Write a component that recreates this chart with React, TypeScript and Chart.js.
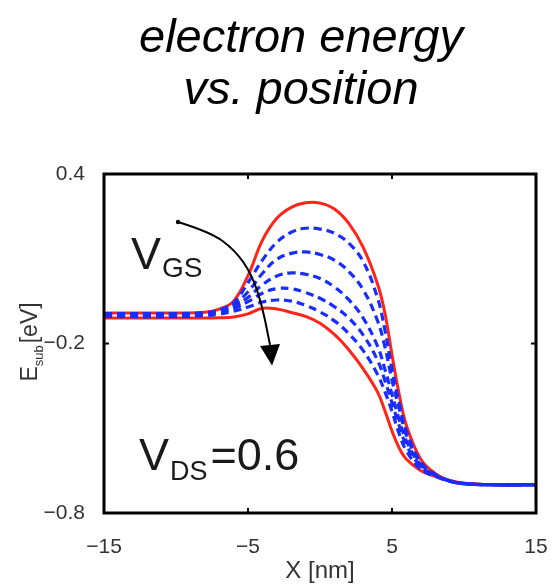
import React, { useEffect, useRef } from "react";
import { Chart, registerables } from "chart.js";

Chart.register(...registerables);

// ---- data ----
const xs = [-15, -10, -8, -7, -6, -5, -4, -3, -2, -1, 0, 1, 2, 3, 4, 4.5, 5, 5.5, 6, 7, 8, 9, 10, 12, 15];

const upperRed = [-0.092, -0.092, -0.089, -0.078, -0.05, 0.04, 0.165, 0.243, 0.282, 0.298, 0.297, 0.276, 0.225, 0.14, 0.01, -0.09, -0.24, -0.38, -0.49, -0.61, -0.66, -0.685, -0.695, -0.7, -0.7];
const blue1 = [-0.094, -0.094, -0.091, -0.081, -0.056, 0.015, 0.095, 0.158, 0.194, 0.208, 0.205, 0.19, 0.155, 0.09, -0.04, -0.15, -0.29, -0.41, -0.51, -0.62, -0.663, -0.686, -0.696, -0.7, -0.7];
const blue2 = [-0.096, -0.096, -0.093, -0.084, -0.063, -0.017, 0.048, 0.098, 0.119, 0.124, 0.115, 0.095, 0.055, -0.01, -0.12, -0.21, -0.33, -0.43, -0.525, -0.625, -0.665, -0.687, -0.696, -0.7, -0.7];
const blue3 = [-0.098, -0.098, -0.095, -0.087, -0.07, -0.037, 0.008, 0.039, 0.05, 0.045, 0.03, 0.0, -0.045, -0.11, -0.21, -0.29, -0.38, -0.47, -0.545, -0.63, -0.666, -0.687, -0.696, -0.7, -0.7];
const blue4 = [-0.1, -0.1, -0.097, -0.09, -0.077, -0.052, -0.022, -0.006, -0.006, -0.02, -0.04, -0.07, -0.11, -0.17, -0.26, -0.33, -0.41, -0.49, -0.56, -0.635, -0.668, -0.687, -0.696, -0.7, -0.7];
const blue5 = [-0.105, -0.105, -0.101, -0.096, -0.086, -0.071, -0.053, -0.046, -0.05, -0.065, -0.088, -0.12, -0.165, -0.225, -0.31, -0.37, -0.44, -0.52, -0.58, -0.645, -0.67, -0.687, -0.696, -0.7, -0.7];
const lowerRed = [-0.11, -0.11, -0.11, -0.109, -0.106, -0.095, -0.075, -0.078, -0.09, -0.104, -0.128, -0.168, -0.222, -0.29, -0.372, -0.437, -0.51, -0.57, -0.61, -0.65, -0.67, -0.685, -0.695, -0.7, -0.7];

const xTicks = [-15, -5, 5, 15];
const xTickLabels = ["\u221215", "\u22125", "5", "15"];
const yTicks = [-0.8, -0.2, 0.4];
const yTickLabels = ["\u22120.8", "\u22120.2", "0.4"];

// arrow annotation path (data coordinates)
const arrowXs = [-9.86, -7.64, -5.9, -4.72, -4.03, -3.61, -3.47];
const arrowYs = [0.23, 0.195, 0.131, 0.042, -0.064, -0.17, -0.205];
const arrowTip = { x: -3.33, y: -0.278 };

const titleLines = ["electron energy", "vs. position"];

const RED = "rgb(255,35,25)";
const BLUE = "rgb(25,45,255)";
const FONT = "'Liberation Sans', Arial, sans-serif";

export default function App() {
  const ref = useRef<HTMLCanvasElement>(null);

  useEffect(() => {
    document.body.style.margin = "0";
    const canvas = ref.current;
    if (!canvas) return;

    const pts = (ys: number[]) => xs.map((x, i) => ({ x, y: ys[i] }));
    const red = (ys: number[], label: string) => ({
      label,
      data: pts(ys),
      borderColor: RED,
      borderWidth: 3,
      pointRadius: 0,
      tension: 0.4,
      fill: false,
    });
    const blue = (ys: number[], label: string) => ({
      label,
      data: pts(ys),
      borderColor: BLUE,
      borderWidth: 3.2,
      borderDash: [8, 5],
      pointRadius: 0,
      tension: 0.4,
      fill: false,
    });

    const decor = {
      id: "decor",
      afterDraw(chart: any) {
        const c = chart.ctx as CanvasRenderingContext2D;
        const a = chart.chartArea;
        const sx = chart.scales.x;
        const sy = chart.scales.y;
        c.save();

        // title
        c.fillStyle = "#000";
        c.font = `italic 47px ${FONT}`;
        c.textAlign = "center";
        c.textBaseline = "alphabetic";
        c.fillText(titleLines[0], 301, 52);
        c.fillText(titleLines[1], 301, 104);

        // arrow
        const px = arrowXs.map((v) => sx.getPixelForValue(v));
        const py = arrowYs.map((v) => sy.getPixelForValue(v));
        c.strokeStyle = "#000";
        c.lineWidth = 2;
        c.beginPath();
        c.moveTo(px[0], py[0]);
        for (let i = 1; i < px.length - 1; i++) {
          const mx = (px[i] + px[i + 1]) / 2;
          const my = (py[i] + py[i + 1]) / 2;
          c.quadraticCurveTo(px[i], py[i], mx, my);
        }
        c.lineTo(px[px.length - 1], py[py.length - 1]);
        c.stroke();
        c.fillStyle = "#000";
        c.beginPath();
        c.arc(px[0], py[0], 2.2, 0, Math.PI * 2);
        c.fill();
        const tx = sx.getPixelForValue(arrowTip.x);
        const ty = sy.getPixelForValue(arrowTip.y);
        const bx = px[px.length - 1];
        const by = py[py.length - 1];
        const ang = Math.atan2(ty - by, tx - bx);
        const hw = 10;
        c.beginPath();
        c.moveTo(tx, ty);
        c.lineTo(bx + Math.cos(ang + Math.PI / 2) * hw, by + Math.sin(ang + Math.PI / 2) * hw);
        c.lineTo(bx + Math.cos(ang - Math.PI / 2) * hw, by + Math.sin(ang - Math.PI / 2) * hw);
        c.closePath();
        c.fill();

        // frame
        c.strokeStyle = "#000";
        c.lineWidth = 3;
        c.strokeRect(a.left, a.top, a.right - a.left, a.bottom - a.top);

        // inward ticks
        c.lineWidth = 2;
        const tl = 5;
        c.beginPath();
        xTicks.forEach((v) => {
          const p = sx.getPixelForValue(v);
          c.moveTo(p, a.bottom);
          c.lineTo(p, a.bottom - tl);
          c.moveTo(p, a.top);
          c.lineTo(p, a.top + tl);
        });
        yTicks.forEach((v) => {
          const p = sy.getPixelForValue(v);
          c.moveTo(a.left, p);
          c.lineTo(a.left + tl, p);
          c.moveTo(a.right, p);
          c.lineTo(a.right - tl, p);
        });
        c.stroke();

        // annotations V_GS and V_DS=0.6
        c.fillStyle = "#1a1a1a";
        c.textAlign = "left";
        c.textBaseline = "alphabetic";
        c.font = `45px ${FONT}`;
        c.fillText("V", 131, 269);
        const vw = c.measureText("V").width;
        c.font = `28px ${FONT}`;
        c.fillText("GS", 131 + vw + 1, 277);

        c.font = `45px ${FONT}`;
        c.fillText("V", 139, 470);
        const vw2 = c.measureText("V").width;
        c.font = `27px ${FONT}`;
        c.fillText("DS", 139 + vw2 + 1, 480);
        const dsw = c.measureText("DS").width;
        c.font = `45px ${FONT}`;
        c.fillText("=0.6", 139 + vw2 + 1 + dsw + 3, 470);

        // x axis title
        c.fillStyle = "#333";
        c.font = `24px ${FONT}`;
        c.textAlign = "center";
        c.fillText("X [nm]", (a.left + a.right) / 2, 578);

        // y axis title (rotated)
        c.save();
        c.translate(37, 342);
        c.rotate(-Math.PI / 2);
        c.textAlign = "left";
        const e = "E";
        const sub = "sub";
        const rest = "[eV]";
        c.font = `23px ${FONT}`;
        const ew = c.measureText(e).width;
        c.font = `13px ${FONT}`;
        const sw = c.measureText(sub).width;
        c.font = `23px ${FONT}`;
        const rw = c.measureText(rest).width;
        const total = ew + sw + 2 + rw;
        let xx = -total / 2;
        c.fillText(e, xx, 0);
        xx += ew;
        c.font = `13px ${FONT}`;
        c.fillText(sub, xx, 6);
        xx += sw + 2;
        c.font = `23px ${FONT}`;
        c.fillText(rest, xx, 0);
        c.restore();

        c.restore();
      },
    };

    const chart = new Chart(canvas, {
      type: "line",
      data: {
        datasets: [
          blue(blue1, "b1"),
          blue(blue2, "b2"),
          blue(blue3, "b3"),
          blue(blue4, "b4"),
          blue(blue5, "b5"),
          red(upperRed, "upper"),
          red(lowerRed, "lower"),
        ],
      },
      options: {
        responsive: false,
        animation: false,
        events: [],
        layout: { padding: { left: 10, right: 18, top: 174, bottom: 20 } },
        plugins: {
          legend: { display: false },
          title: { display: false },
          tooltip: { enabled: false },
        },
        scales: {
          x: {
            type: "linear",
            min: -15,
            max: 15,
            afterBuildTicks: (s: any) => {
              s.ticks = xTicks.map((v) => ({ value: v }));
            },
            afterFit: (s: any) => {
              s.height = 54;
              s.paddingLeft = 0;
              s.paddingRight = 0;
            },
            ticks: {
              autoSkip: false,
              maxRotation: 0,
              padding: 14,
              color: "#333",
              font: { family: FONT, size: 21 },
              callback: (v: any) => {
                const i = xTicks.indexOf(Number(v));
                return i >= 0 ? xTickLabels[i] : "";
              },
            },
            grid: { display: false },
            border: { display: false },
          },
          y: {
            type: "linear",
            min: -0.8,
            max: 0.4,
            afterBuildTicks: (s: any) => {
              s.ticks = yTicks.map((v) => ({ value: v }));
            },
            afterFit: (s: any) => {
              s.width = 94;
              s.paddingTop = 0;
              s.paddingBottom = 0;
            },
            ticks: {
              autoSkip: false,
              padding: 11,
              color: "#333",
              font: { family: FONT, size: 21 },
              callback: (v: any) => {
                const i = yTicks.findIndex((t) => Math.abs(t - Number(v)) < 1e-9);
                return i >= 0 ? yTickLabels[i] : "";
              },
            },
            grid: { display: false },
            border: { display: false },
          },
        },
      },
      plugins: [decor],
    });

    return () => chart.destroy();
  }, []);

  return (
    <div style={{ width: 554, height: 587 }}>
      <canvas ref={ref} width={554} height={587} style={{ display: "block" }} />
    </div>
  );
}
